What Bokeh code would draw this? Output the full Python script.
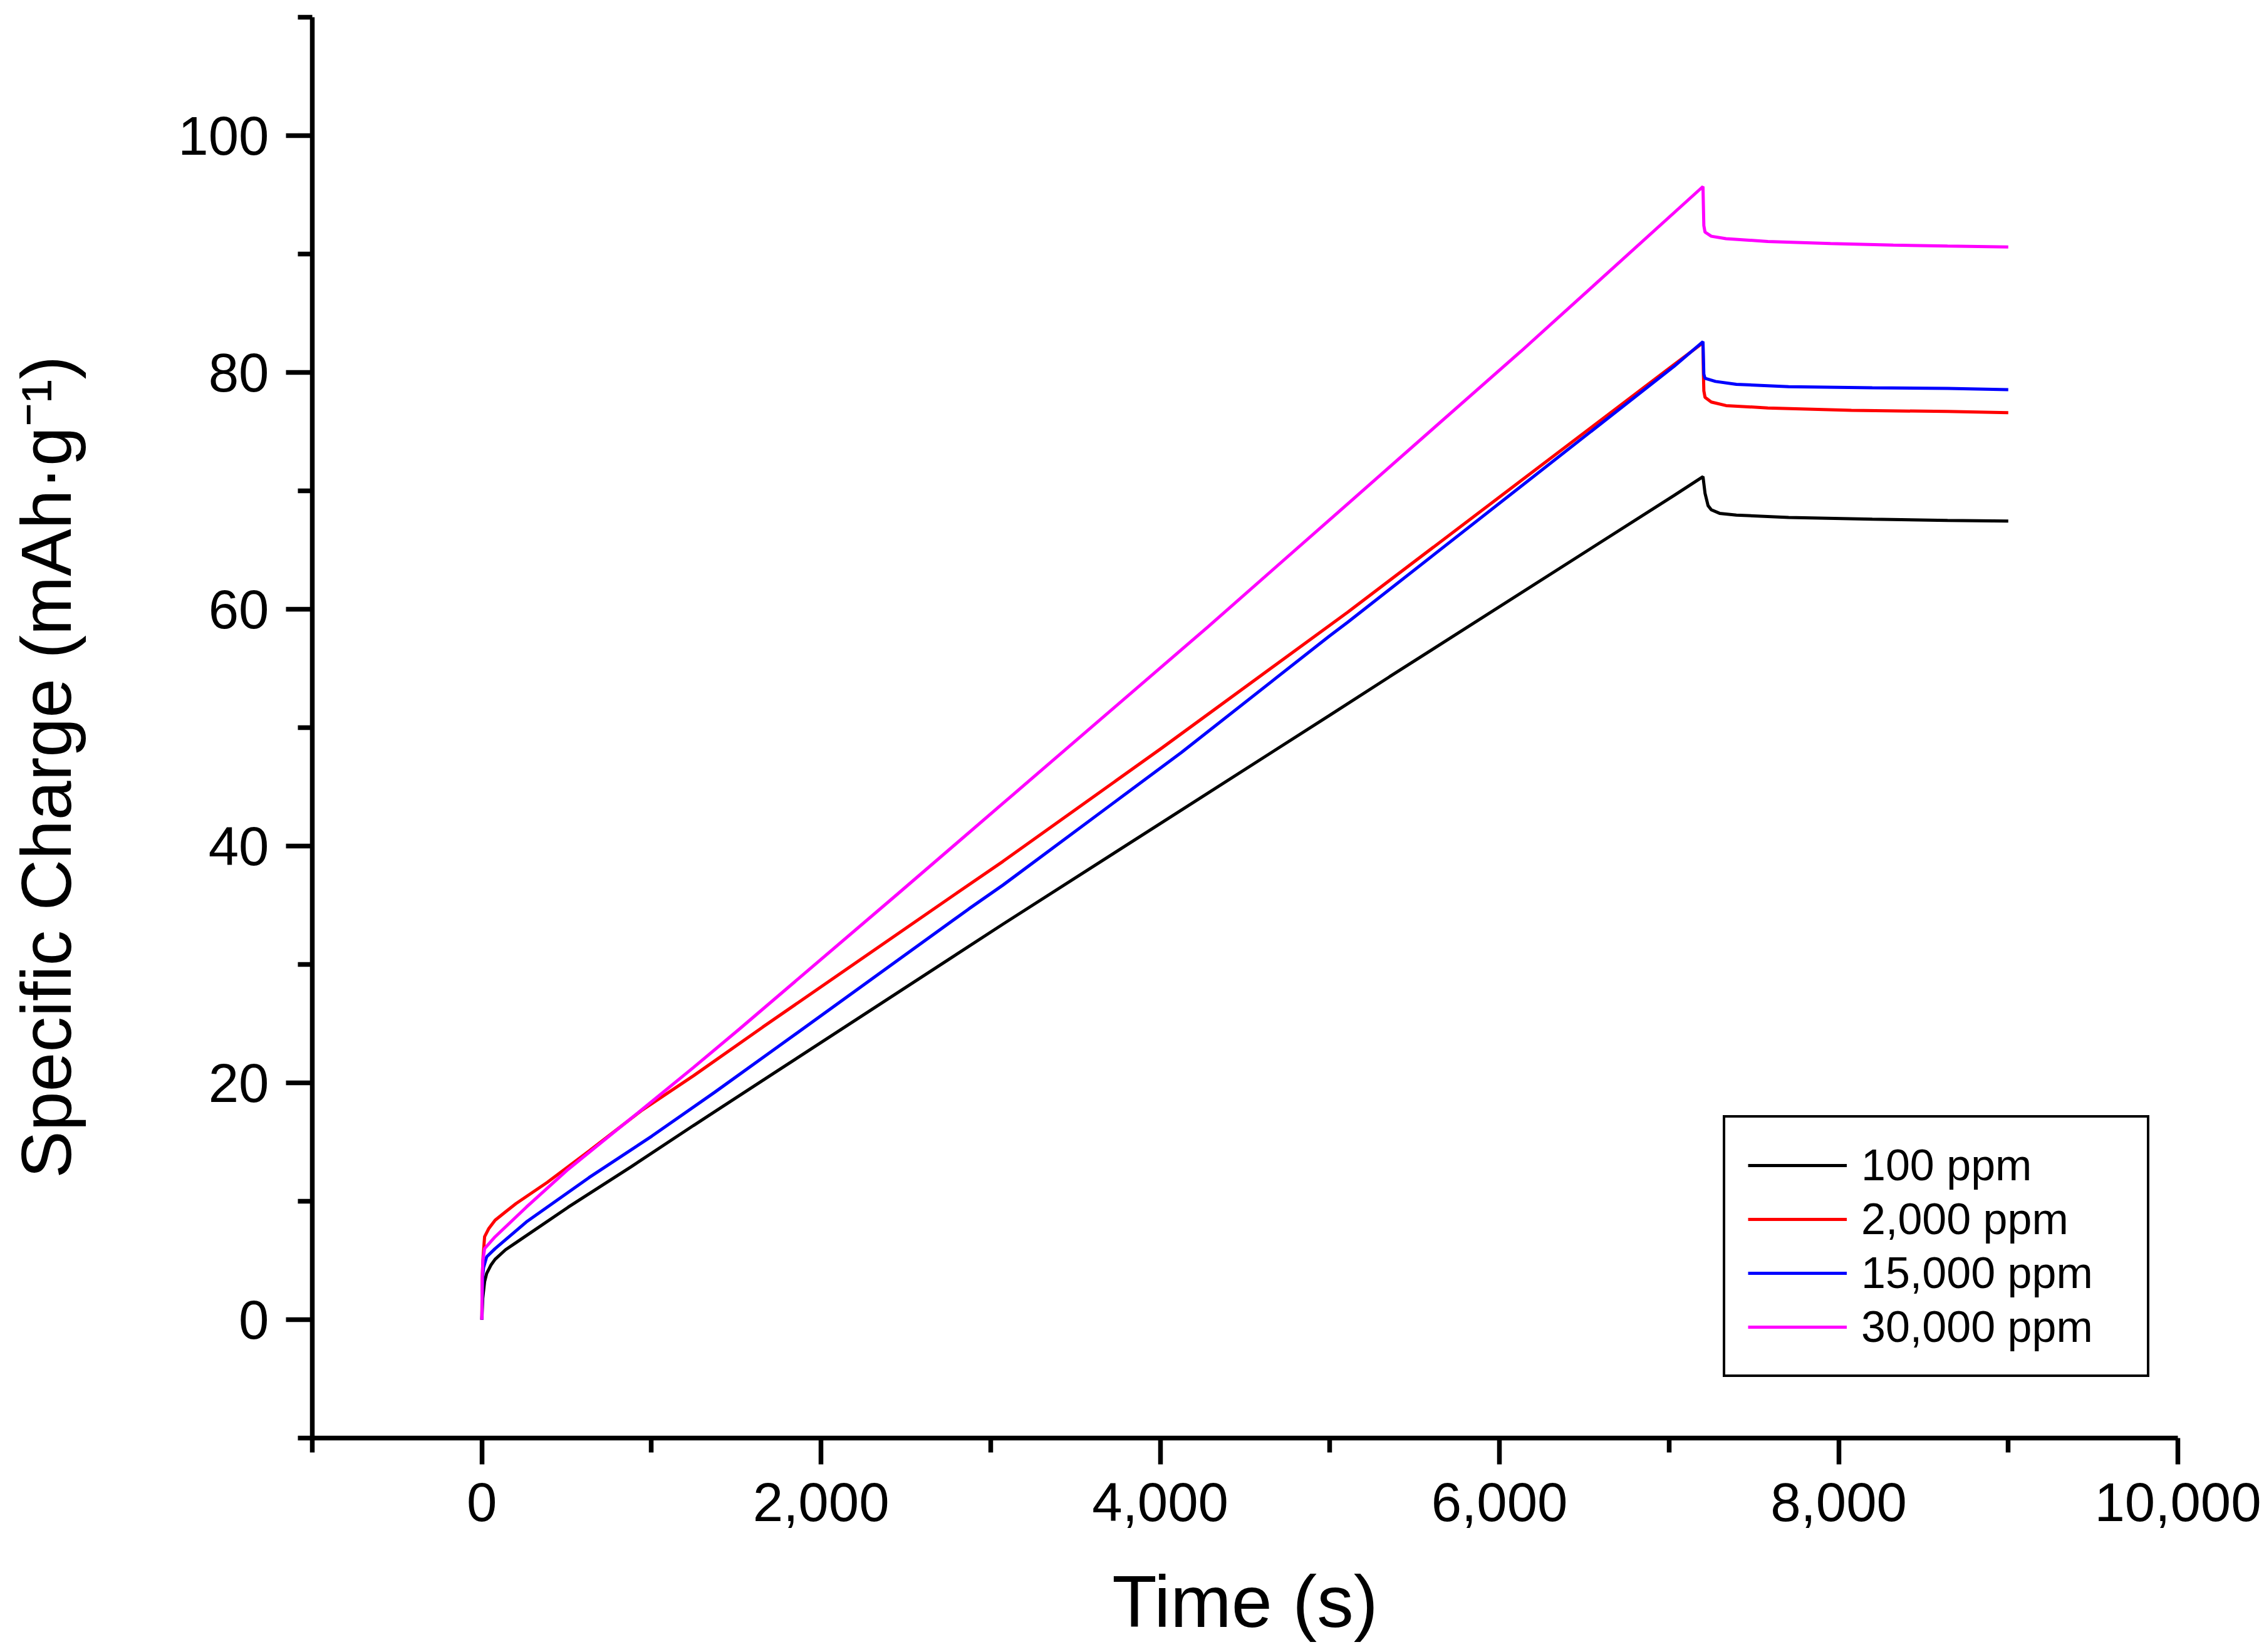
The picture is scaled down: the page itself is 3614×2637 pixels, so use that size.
from bokeh.plotting import figure
from bokeh.models import FixedTicker, NumeralTickFormatter, Legend, LegendItem, Range1d
from bokeh.embed import file_html
from bokeh.resources import INLINE

# ---- data ----
black_t = [0, 5, 16, 28, 53, 78, 139, 201, 509, 879, 1248, 1741, 3072, 4994, 5352, 7028, 7200,
           7212, 7230, 7249, 7298, 7397, 7705, 8198, 8642, 9000]
black_v = [0, 1.8, 3.2, 3.9, 4.6, 5.1, 5.9, 6.5, 9.5, 12.9, 16.4, 21.0, 33.4, 51.0, 54.3, 69.6, 71.2,
           69.8, 68.75, 68.4, 68.1, 67.95, 67.75, 67.6, 67.5, 67.45]

red_t = [0, 2, 7, 16, 41, 78, 139, 201, 386, 632, 940, 1248, 1655, 2787, 3072, 4011, 4976, 5105, 7028, 7200,
         7202, 7205, 7212, 7249, 7336, 7582, 8075, 8642, 9000]
red_v = [0, 3.5, 5.3, 7.0, 7.7, 8.4, 9.1, 9.8, 11.6, 14.25, 17.65, 20.6, 24.7, 35.9, 38.7, 48.3, 58.4, 59.75, 80.65, 82.5,
         80.2, 78.45, 77.9, 77.5, 77.2, 77.0, 76.8, 76.7, 76.6]

blue_t = [0, 3, 6, 10, 28, 78, 262, 632, 1002, 1372, 1741, 2872, 3072, 4124, 4994, 5105, 7028, 7200,
          7205, 7212, 7274, 7397, 7705, 8198, 8642, 9000]
blue_v = [0, 2.5, 3.85, 4.4, 5.3, 6.0, 8.25, 12.0, 15.5, 19.2, 23.0, 34.7, 36.7, 47.9, 57.7, 58.9, 80.5, 82.6,
          79.86, 79.5, 79.24, 79.0, 78.8, 78.7, 78.65, 78.55]

magenta_t = [0, 2, 6, 16, 78, 262, 509, 940, 1248, 1519, 2447, 3072, 4280, 5105, 6128, 7200,
             7205, 7212, 7249, 7336, 7582, 7952, 8322, 8642, 9000]
magenta_v = [0, 3.5, 5.0, 6.0, 7.0, 9.5, 12.7, 17.7, 21.3, 24.55, 35.9, 43.6, 58.5, 68.9, 81.8, 95.7,
             92.4, 91.85, 91.5, 91.3, 91.06, 90.88, 90.76, 90.67, 90.6]

series_labels = ["100 ppm", "2,000 ppm", "15,000 ppm", "30,000 ppm"]
series_colors = ["#000000", "#FF0000", "#0000FF", "#FF00FF"]

x_major = [0, 2000, 4000, 6000, 8000, 10000]
x_minor = [-1000, 1000, 3000, 5000, 7000, 9000]
y_major = [0, 20, 40, 60, 80, 100]
y_minor = [-10, 10, 30, 50, 70, 90, 110]

x_title = "Time (s)"
# trailing no-break spaces shift the centred title toward the bottom, as in the reference
y_title = "Specific Charge (mAh\u00b7g\u207b\u00b9)" + "\u00a0" * 4

FONT = "Liberation Sans"

p = figure(width=3610, height=2635, output_backend="svg", toolbar_location=None,
           x_range=Range1d(-1000, 10000), y_range=Range1d(-10, 110),
           min_border_left=498, min_border_right=134, min_border_top=27, min_border_bottom=340)
p.outline_line_color = None
p.grid.visible = False
p.background_fill_color = "white"
p.border_fill_color = "white"

renderers = []
for t, v, c in zip([black_t, red_t, blue_t, magenta_t],
                   [black_v, red_v, blue_v, magenta_v], series_colors):
    r = p.line(t, v, line_color=c, line_width=5)
    renderers.append(r)

p.xaxis.ticker = FixedTicker(ticks=x_major, minor_ticks=x_minor)
p.yaxis.ticker = FixedTicker(ticks=y_major, minor_ticks=y_minor)
p.xaxis.formatter = NumeralTickFormatter(format="0,0")
p.yaxis.formatter = NumeralTickFormatter(format="0")

for ax in (p.xaxis[0], p.yaxis[0]):
    ax.axis_line_width = 7.5
    ax.axis_line_color = "black"
    ax.major_tick_line_width = 7.5
    ax.minor_tick_line_width = 7.5
    ax.major_tick_line_color = "black"
    ax.minor_tick_line_color = "black"
    ax.major_tick_in = 0
    ax.major_tick_out = 42
    ax.minor_tick_in = 0
    ax.minor_tick_out = 23
    ax.major_label_text_font = FONT
    ax.major_label_text_font_size = "87px"
    ax.major_label_text_color = "black"
    ax.axis_label_text_font = FONT
    ax.axis_label_text_font_style = "normal"
    ax.axis_label_text_color = "black"

p.xaxis.axis_label = x_title
p.yaxis.axis_label = y_title
p.xaxis.axis_label_text_font_size = "117px"
p.yaxis.axis_label_text_font_size = "113px"
p.xaxis.major_label_standoff = 30
p.yaxis.major_label_standoff = 27
p.xaxis.axis_label_standoff = 60
p.yaxis.axis_label_standoff = 144

legend = Legend(items=[LegendItem(label=lab, renderers=[r]) for lab, r in zip(series_labels, renderers)],
                location=(2252, 97))
legend.border_line_color = "black"
legend.border_line_alpha = 1.0
legend.border_line_width = 4
legend.background_fill_color = "white"
legend.background_fill_alpha = 1.0
legend.padding = 36
legend.margin = 0
legend.spacing = 6
legend.glyph_width = 158
legend.glyph_height = 80
legend.label_height = 80
legend.label_width = 420
legend.label_standoff = 23
legend.label_text_font = FONT
legend.label_text_font_size = "70px"
legend.label_text_color = "black"
legend.label_text_baseline = "middle"
p.add_layout(legend)

open("out.html", "w").write(file_html(p, INLINE))
